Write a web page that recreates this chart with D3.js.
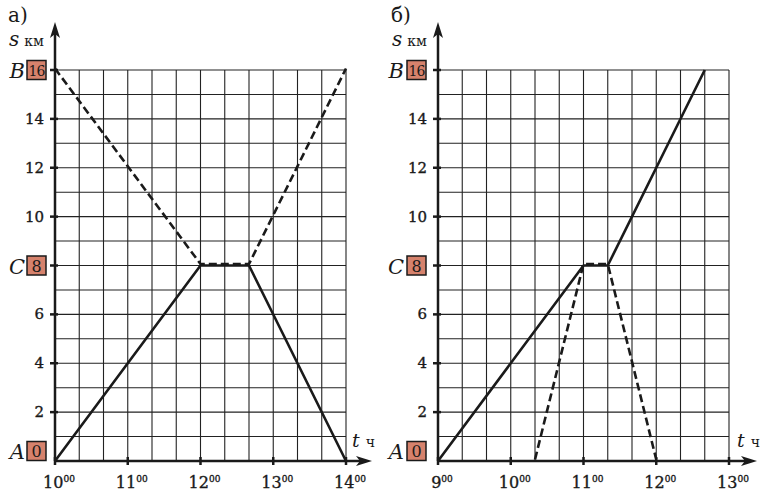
<!DOCTYPE html>
<html><head><meta charset="utf-8">
<script src="https://cdn.jsdelivr.net/npm/d3@7"></script>
<style>
html,body{margin:0;padding:0;background:#fff;}
svg{display:block;font-family:"DejaVu Serif","Liberation Serif",serif;}
</style></head>
<body>
<svg id="chart" width="763" height="493"></svg>
<script>
// ---- data ----
const panelTitles = ["а)", "б)"];
const leftHours = [10, 11, 12, 13, 14];
const rightHours = [9, 10, 11, 12, 13];
const yTickValues = [2, 4, 6, 10, 12, 14];
const pointLetters = ["A", "C", "B"];
const pointValues = [0, 8, 16];
const leftSolidTimes = ["10:00", "12:00", "12:40", "14:00"];
const leftSolidDist = [0, 8, 8, 0];
const leftDashedTimes = ["10:00", "12:00", "12:40", "14:00"];
const leftDashedDist = [16, 8, 8, 16];
const rightSolidTimes = ["9:00", "11:00", "11:20", "12:40"];
const rightSolidDist = [0, 8, 8, 16];
const rightDashedTimes = ["10:20", "11:00", "11:20", "12:00"];
const rightDashedDist = [0, 8, 8, 0];

const toH = s => { const [h, m] = s.split(":").map(Number); return h + m / 60; };
const zip = (t, d) => t.map((s, i) => ({ t: toH(s), s: d[i] }));

const panels = [
  { title: panelTitles[0], hours: leftHours, ox: 55, axisEnd: 372, boxL: 27, letterX: 25,
    series: [{ data: zip(leftSolidTimes, leftSolidDist), dash: null },
             { data: zip(leftDashedTimes, leftDashedDist), dash: "8,4" }] },
  { title: panelTitles[1], hours: rightHours, ox: 438, axisEnd: 757, boxL: 407, letterX: 404,
    series: [{ data: zip(rightSolidTimes, rightSolidDist), dash: null },
             { data: zip(rightDashedTimes, rightDashedDist), dash: "8,4" }] }
];

const svg = d3.select("#chart");
const ink = "#1a1a1a";
const yTop = 70, yBot = 461;

panels.forEach(p => {
  const x = d3.scaleLinear().domain([p.hours[0], p.hours[p.hours.length - 1]]).range([p.ox, p.ox + 291]);
  const y = d3.scaleLinear().domain([0, 16]).range([yBot, yTop]);
  const g = svg.append("g");

  // grid
  const minutes = d3.range(p.hours[0], p.hours[p.hours.length - 1] + 1e-6, 1 / 3);
  g.selectAll(".vg").data(minutes).join("line")
    .attr("x1", d => x(d)).attr("x2", d => x(d)).attr("y1", y(0)).attr("y2", y(16))
    .attr("stroke", "#222").attr("stroke-width", 1.1);
  g.selectAll(".hg").data(d3.range(0, 17)).join("line")
    .attr("x1", x.range()[0]).attr("x2", x.range()[1]).attr("y1", d => y(d)).attr("y2", d => y(d))
    .attr("stroke", "#222").attr("stroke-width", 1.1);

  // axes
  g.append("line").attr("x1", p.ox).attr("x2", p.axisEnd - 10).attr("y1", y(0)).attr("y2", y(0))
    .attr("stroke", ink).attr("stroke-width", 2.5);
  g.append("path").attr("d", `M${p.axisEnd},${y(0)} L${p.axisEnd - 16},${y(0) - 5} L${p.axisEnd - 12},${y(0)} L${p.axisEnd - 16},${y(0) + 5} Z`).attr("fill", ink);
  g.append("line").attr("x1", p.ox).attr("x2", p.ox).attr("y1", y(0)).attr("y2", 32)
    .attr("stroke", ink).attr("stroke-width", 2.5);
  g.append("path").attr("d", `M${p.ox},22 L${p.ox - 5},38 L${p.ox},34 L${p.ox + 5},38 Z`).attr("fill", ink);

  // x ticks and labels
  g.selectAll(".xt").data(p.hours).join("line")
    .attr("x1", d => x(d)).attr("x2", d => x(d)).attr("y1", y(0) - 4).attr("y2", y(0) + 4)
    .attr("stroke", ink).attr("stroke-width", 2.5);
  const xl = g.selectAll(".xl").data(p.hours).join("text")
    .attr("x", d => x(d) + 4).attr("y", 488).attr("text-anchor", "middle")
    .attr("font-size", 16).attr("fill", ink).attr("stroke", ink).attr("stroke-width", 0.35);
  xl.append("tspan").text(d => d);
  xl.append("tspan").attr("font-size", 9).attr("dy", -6).text("00");

  // y ticks
  const yt = yTickValues.concat(pointValues.filter(v => v > 0));
  g.selectAll(".yt").data(yt).join("line")
    .attr("x1", p.ox - 5).attr("x2", p.ox + 3).attr("y1", d => y(d)).attr("y2", d => y(d))
    .attr("stroke", ink).attr("stroke-width", 2.5);
  g.selectAll(".yl").data(yTickValues).join("text")
    .attr("x", p.ox - 11).attr("y", d => y(d) + 5).attr("text-anchor", "end")
    .attr("font-size", 15).attr("fill", ink).attr("stroke", ink).attr("stroke-width", 0.35).text(d => d);

  // boxed points
  pointValues.forEach((v, i) => {
    const cy = Math.min(y(v), y(0) - 10);
    g.append("rect").attr("x", p.boxL).attr("y", cy - 9.5).attr("width", 19).attr("height", 19)
      .attr("fill", "#d6826c").attr("stroke", ink).attr("stroke-width", 1.5);
    g.append("text").attr("x", p.boxL + 9.5).attr("y", cy + 6).attr("text-anchor", "middle")
      .attr("font-size", v >= 10 ? 14 : 16).attr("letter-spacing", v >= 10 ? -1 : 0).attr("fill", ink).text(v);
    g.append("text").attr("x", p.letterX).attr("y", cy + 8).attr("text-anchor", "end")
      .attr("font-size", 21).attr("font-style", "italic").attr("fill", ink).text(pointLetters[i]);
  });

  // titles
  g.append("text").attr("x", p.ox - 47).attr("y", 22).attr("font-size", 20).attr("fill", ink).text(p.title);
  const sk = g.append("text").attr("x", p.ox - 46).attr("y", 46).attr("fill", ink);
  sk.append("tspan").attr("font-size", 20).attr("font-style", "italic").text("s");
  sk.append("tspan").attr("font-size", 14).attr("dx", 5).text("км");
  const tc = g.append("text").attr("x", p.axisEnd - 20).attr("y", 447).attr("fill", ink);
  tc.append("tspan").attr("font-size", 19).attr("font-style", "italic").text("t");
  tc.append("tspan").attr("font-size", 14).attr("dx", 6).text("ч");

  // data lines
  const line = d3.line().x(d => x(d.t)).y(d => y(d.s));
  p.series.forEach(s => {
    g.append("path").datum(s.data).attr("d", line).attr("fill", "none")
      .attr("stroke", ink).attr("stroke-width", 2.6)
      .attr("transform", s.dash ? "translate(0,-1.5)" : null)
      .attr("stroke-dasharray", s.dash).attr("stroke-linejoin", "round");
  });
});
</script>
</body></html>
